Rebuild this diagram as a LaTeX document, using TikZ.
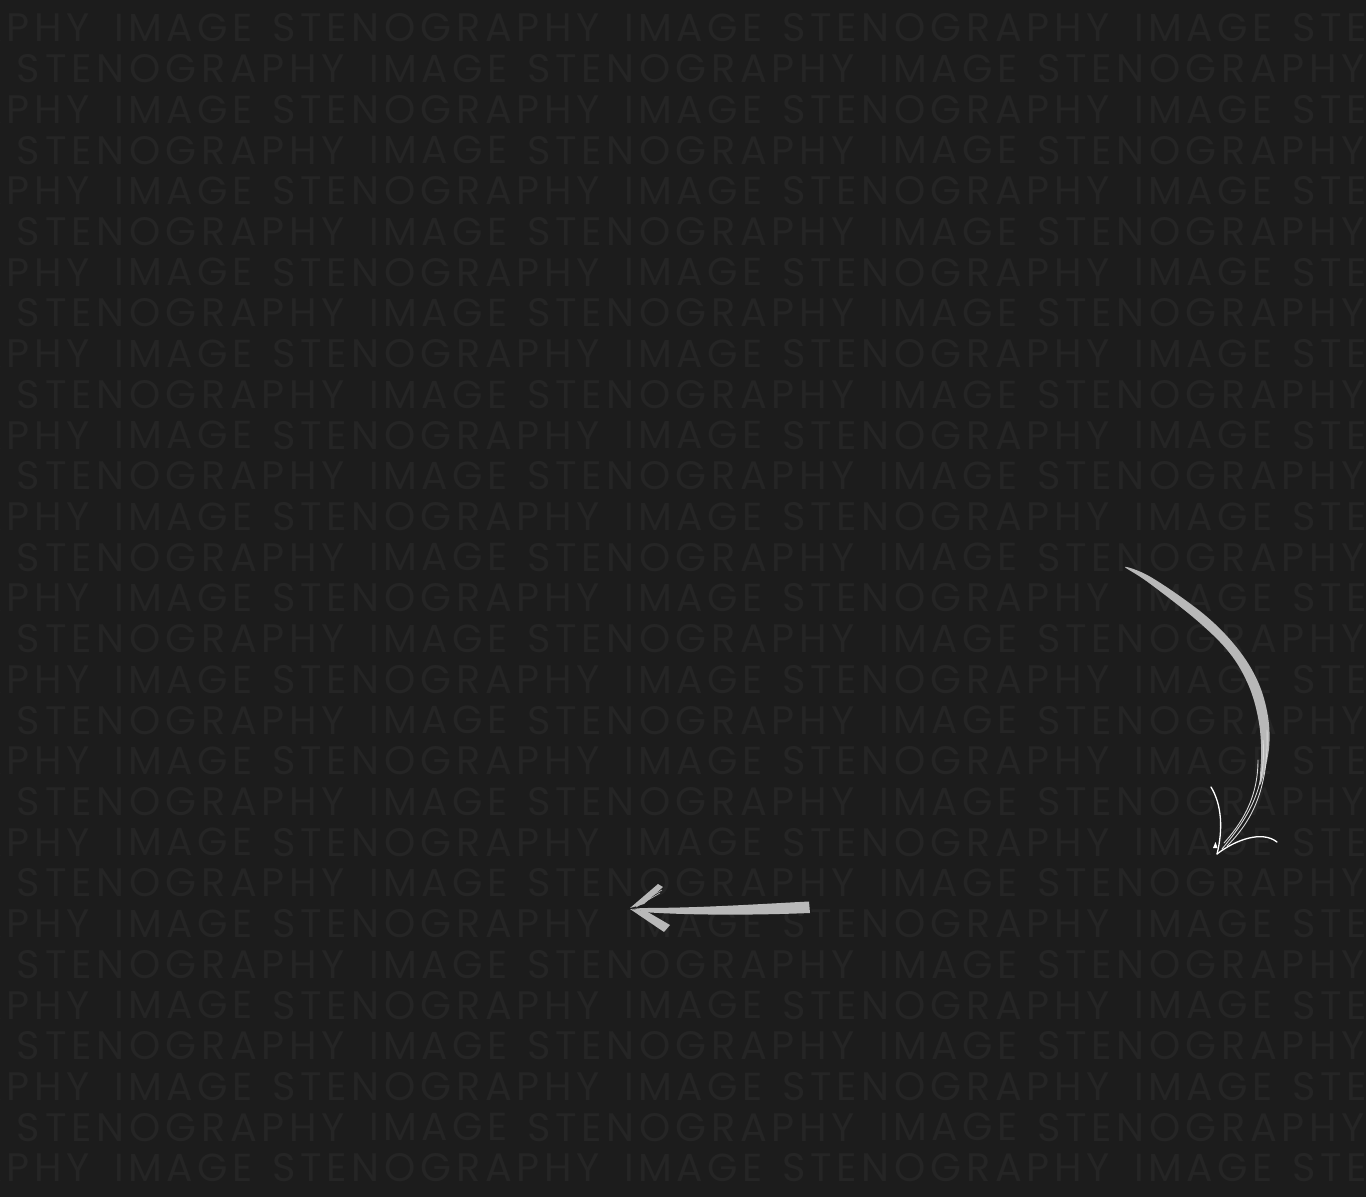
\documentclass[tikz,border=0pt]{standalone}
\usepackage{graphicx}
\usepackage{fontspec}
\newfontfamily\wmfont[LetterSpace=12]{Poppins}
\definecolor{bgc}{HTML}{1C1C1C}
\definecolor{wmc}{HTML}{252525}
\definecolor{brush}{HTML}{B8B8B8}
\definecolor{hairc}{HTML}{D8D8D8}
\newcommand\wmS{\resizebox{6.56cm}{!}{\wmfont STENOGRAPHY}}
\newcommand\wmI{\resizebox{2.78cm}{!}{\wmfont IMAGE}}
\tikzset{
  wm/.style={anchor=west, inner sep=0pt, outer sep=0pt, text=wmc},
  hair/.style={draw=hairc, line width=0.018cm, line cap=round},
  barb/.style={draw=white, line width=0.026cm, line cap=round},
}
\begin{document}
\begin{tikzpicture}[x=0.02cm,y=-0.02cm]
\useasboundingbox (0,0) rectangle (1366,1197);
\fill[bgc] (0,0) rectangle (1366,1197);
\begin{scope}
\clip (0,0) rectangle (1366,1197);
\foreach \i in {0,...,14}{
  \pgfmathsetmacro\ya{28+81.43*\i}
  \pgfmathsetmacro\yb{\ya+40.7}
  \foreach \k in {-1,0,1,2}{
    \pgfmathsetmacro\sa{272+510*\k}
    \pgfmathsetmacro\ia{\sa+352}
    \pgfmathsetmacro\sb{17+510*\k}
    \pgfmathsetmacro\ib{\sb+352}
    \node[wm] (sa\i\k) at (\sa,\ya) {\wmS};
    \node[wm] (ia\i\k) at (\ia,\ya) {\wmI};
    \ifnum\i<14
      \node[wm] (sb\i\k) at (\sb,\yb) {\wmS};
      \node[wm] (ib\i\k) at (\ib,\yb) {\wmI};
    \fi
  }
}
\end{scope}

% curved arrow (right)
\fill[brush] plot[smooth cycle, tension=0.6] coordinates {(1125,567) (1148.4,582.5) (1197,620.5) (1229.4,652.7) (1248.4,685) (1258.1,717.9) (1261.2,749.8) (1260,785) (1268.8,750.2) (1267.9,716.1) (1257.6,681) (1236.6,647.3) (1203,613.5) (1151.6,577.5)};
\draw[hair] (1263,740) .. controls (1267,790) and (1246,820) .. (1222,849);
\draw[hair] (1258,760) .. controls (1258,800) and (1240,825) .. (1224,843);
\draw[hair] (1267,730) .. controls (1269,790) and (1251,822) .. (1227,846);
\draw[barb] (1211,787) .. controls (1222,805) and (1223,830) .. (1217,854);
\draw[barb] (1217,854) .. controls (1235,840) and (1262,830) .. (1277,842);
\fill[white] (1213,848) -- (1215.5,842) -- (1217.5,848) -- cycle;

% straight arrow (left)
\fill[brush] (809,901.5) .. controls (760,904) and (700,908) .. (642,908) -- (632,909) -- (650,912.5) .. controls (700,915.5) and (760,915) .. (810,913) -- cycle;
\fill[brush] (630,909) -- (646,911) -- (670,925) -- (664,932) -- cycle;
\fill[brush] (630,908) -- (658,884) -- (663,887) -- (644,904) -- cycle;
\draw[brush, line width=0.014cm] (634,906) -- (662,890);
\draw[brush, line width=0.014cm] (636,907) -- (660,893);
\end{tikzpicture}
\end{document}
